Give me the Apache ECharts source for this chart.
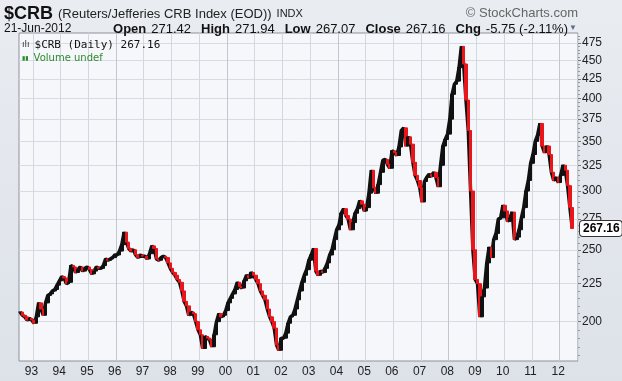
<!DOCTYPE html>
<html><head><meta charset="utf-8">
<script src="https://cdn.jsdelivr.net/npm/echarts@6/dist/echarts.min.js"></script>
<style>html,body{margin:0;padding:0;background:#e4e8ee}#c{width:622px;height:381px}</style>
</head><body><div id="c"></div>
<script>
// Monthly closes (Jul 1992 .. Jun 2012)
const close1992 = [206, 204, 203, 201, 202, 201];
const close1993 = [199, 203, 212, 208, 204, 212, 217, 218, 220, 221, 224, 227];
const close1994 = [230, 229, 225, 226, 238, 237, 233, 235, 237, 234, 236, 237];
const close1995 = [235, 232, 234, 237, 236, 236, 238, 243, 242, 243, 244, 246];
const close1996 = [246, 249, 254, 264, 256, 251, 249, 250, 246, 244, 246, 245];
const close1997 = [245, 243, 247, 253, 251, 243, 242, 244, 245, 244, 240, 236];
const close1998 = [233, 231, 228, 226, 220, 213, 210, 204, 206, 205, 200, 195];
const close1999 = [192, 184, 191, 190, 189, 185, 192, 200, 205, 203, 204, 207];
const close2000 = [212, 215, 218, 221, 226, 223, 222, 227, 231, 229, 233, 231];
const close2001 = [228, 225, 220, 217, 214, 208, 203, 200, 196, 186, 183, 190];
const close2002 = [190, 193, 199, 203, 204, 208, 214, 220, 226, 231, 235, 242];
const close2003 = [246, 251, 234, 231, 234, 233, 236, 240, 246, 250, 258, 266];
const close2004 = [270, 280, 284, 278, 275, 266, 272, 280, 284, 291, 288, 282];
const close2005 = [285, 298, 320, 303, 298, 306, 318, 330, 331, 326, 322, 340];
const close2006 = [338, 335, 344, 362, 365, 345, 355, 347, 328, 315, 310, 303];
const close2007 = [290, 309, 313, 316, 314, 318, 313, 304, 325, 345, 352, 358];
const close2008 = [375, 405, 418, 422, 440, 470, 445, 398, 362, 300, 250, 228];
const close2009 = [225, 203, 216, 222, 240, 252, 244, 258, 263, 275, 276, 287];
const close2010 = [282, 273, 276, 281, 258, 260, 266, 276, 285, 300, 310, 327];
const close2011 = [336, 350, 357, 370, 345, 338, 345, 336, 318, 310, 313, 308];
const close2012 = [315, 325, 320, 305, 285, 267.16];

const yTickValues = [200, 225, 250, 275, 300, 325, 350, 375, 400, 425, 450, 475];
const lastValue = 267.16;
const firstYear = 1992, firstMonth = 7, lastYear = 2012, lastMonth = 8; // axis span

const closes = [].concat(close1992, close1993, close1994, close1995, close1996, close1997,
  close1998, close1999, close2000, close2001, close2002, close2003, close2004, close2005,
  close2006, close2007, close2008, close2009, close2010, close2011, close2012);

const categories = [];
for (let y = firstYear; y <= lastYear; y++) {
  for (let m = 1; m <= 12; m++) {
    if (y === firstYear && m < firstMonth) continue;
    if (y === lastYear && m > lastMonth) continue;
    categories.push(y + '-' + (m < 10 ? '0' + m : m));
  }
}
const candles = closes.map((c, i) => {
  const o = i > 0 ? closes[i - 1] : c;
  return [o, c, Math.min(o, c), Math.max(o, c)];
});
const minorTicks = [];
for (let v = 180; v <= 485; v += 5) if (v % 25 !== 0) minorTicks.push(v);

const isJan = (idx, val) => String(val).slice(5) === '01';
const FONT = 'Arial, "Liberation Sans", sans-serif';
const RED = '#e8151b';
const N = 'normal';

const chart = echarts.init(document.getElementById('c'), null, {renderer: 'canvas'});
chart.setOption({
  animation: false,
  backgroundColor: new echarts.graphic.LinearGradient(0, 0, 0, 1, [
    {offset: 0, color: '#e9ecf1'}, {offset: 1, color: '#dde2e9'}]),
  textStyle: {fontFamily: FONT},
  title: [
    {left: 4, top: 5, padding: 0, text: '{a|$CRB} {b|(Reuters/Jefferies CRB Index (EOD))} {c|INDX}',
      textStyle: {fontWeight: N, lineHeight: 18, rich: {
        a: {fontSize: 18, fontWeight: 'bold', color: '#111', fontFamily: FONT, lineHeight: 18},
        b: {fontSize: 13, fontWeight: N, color: '#222', fontFamily: FONT, lineHeight: 18},
        c: {fontSize: 11, fontWeight: N, color: '#222', fontFamily: FONT, lineHeight: 18}}}},
    {right: 44, top: 7, padding: 0, text: '© StockCharts.com',
      textStyle: {fontSize: 13, fontWeight: N, color: '#666', fontFamily: FONT}},
    {left: 4, top: 23, padding: 0, text: '21-Jun-2012',
      textStyle: {fontSize: 12, fontWeight: N, color: '#111', fontFamily: FONT}},
    {right: 54, top: 20, padding: 0,
      text: '{l|Open} {v|271.42}  {l|High} {v|271.94}  {l|Low} {v|267.07}  {l|Close} {v|267.16}  {l|Chg} {v|-5.75 (-2.11%)}',
      textStyle: {fontWeight: N, rich: {
        l: {fontSize: 13, fontWeight: 'bold', color: '#111', fontFamily: FONT},
        v: {fontSize: 13, fontWeight: N, color: '#111', fontFamily: FONT}}}},
    {right: 45, top: 24, padding: 0, text: '▼', textStyle: {fontSize: 8, color: '#5b6c8f', fontWeight: N}},
    {left: 22, top: 36, padding: 0, text: '{i|ılı} {t|$CRB (Daily) 267.16}',
      textStyle: {fontWeight: N, rich: {
        i: {fontSize: 9, fontWeight: N, color: '#333', fontFamily: 'DejaVu Sans'},
        t: {fontSize: 11, fontWeight: N, color: '#111', fontFamily: 'DejaVu Sans Mono'}}}},
    {left: 22, top: 49, padding: 0, text: '{i|▮▮} {t|Volume undef}',
      textStyle: {fontWeight: N, rich: {
        i: {fontSize: 6, fontWeight: N, color: '#2f8a2f', fontFamily: 'DejaVu Sans'},
        t: {fontSize: 10, fontWeight: N, color: '#2f8a2f', fontFamily: 'DejaVu Sans'}}}}
  ],
  grid: {left: 19, right: 44, top: 33, bottom: 20, show: true,
    backgroundColor: '#f5f7fb', borderColor: '#8d929b', borderWidth: 1},
  xAxis: {
    type: 'category', data: categories, boundaryGap: true,
    axisLine: {show: false},
    axisTick: {show: false},
    axisLabel: {interval: isJan, formatter: v => v.slice(2, 4), color: '#222', fontSize: 12,
      margin: 5, padding: [0, 5, 0, 0], fontFamily: FONT},
    splitLine: {show: true, interval: isJan,
      lineStyle: {color: ['#d3d7de', '#d3d7de', '#d3d7de', '#c2c6ce'], width: 1}}
  },
  yAxis: [
    {type: 'log', position: 'right', min: 177, max: 490, logBase: 10,
      axisLine: {show: false},
      axisTick: {show: true, customValues: yTickValues, length: 3, inside: false, lineStyle: {color: '#777'}},
      axisLabel: {customValues: yTickValues, color: '#222', fontSize: 12, margin: 4, fontFamily: FONT},
      splitLine: {show: true, lineStyle: {color: '#d7dbe2'}},
      axisPointer: {show: true, value: lastValue, status: 'show', type: 'line', triggerTooltip: false,
        lineStyle: {opacity: 0},
        label: {show: true, formatter: () => lastValue.toFixed(2), backgroundColor: '#fff',
          color: '#000', fontWeight: 'bold', fontSize: 12, fontFamily: FONT,
          borderColor: '#333', borderWidth: 1, padding: [2, 2, 1, 3], margin: 2}}},
    {type: 'log', position: 'right', min: 177, max: 490, logBase: 10,
      axisLine: {show: false},
      axisTick: {show: true, customValues: minorTicks, length: 2, lineStyle: {color: '#999'}},
      axisLabel: {show: false}, splitLine: {show: false}}
  ],
  series: [
    {type: 'line', data: closes, symbol: 'none', lineStyle: {color: '#111', width: 3.5}, z: 2,
      silent: true},
    {type: 'candlestick', data: candles, barWidth: 3, z: 3, silent: true,
      itemStyle: {color: '#111', color0: RED, borderColor: '#111', borderColor0: RED, borderWidth: 1}}
  ]
});
</script></body></html>
